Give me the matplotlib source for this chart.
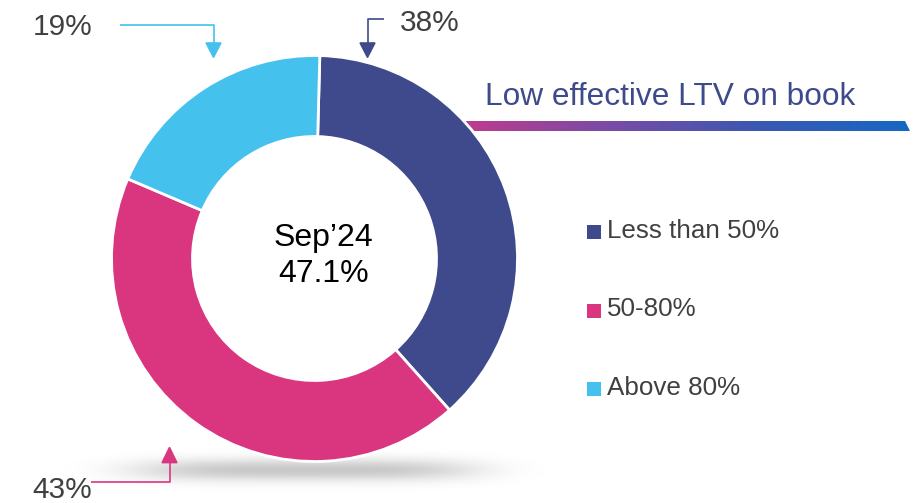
import numpy as np
import matplotlib
matplotlib.use("Agg")
import matplotlib.pyplot as plt
from matplotlib.patches import Polygon, Rectangle
from matplotlib.colors import LinearSegmentedColormap

# ---- data ----
categories = ["Less than 50%", "50-80%", "Above 80%"]
shares = [38, 43, 19]
pct_labels = ["38%", "43%", "19%"]
colors = ["#3E4A8B", "#D9367F", "#45C1EE"]
title = "Low effective LTV on book"
center_text = "Sep\u201924\n47.1%"

W, H = 917, 503
plt.rcParams['font.family'] = ['Liberation Sans', 'DejaVu Sans']
fig = plt.figure(figsize=(W / 100, H / 100), dpi=100)
ax = fig.add_axes([0, 0, 1, 1])

def Y(y):  # image row -> data y
    return H - y

cx, cy, R = 314.5, Y(258.5), 203
# ---- shadow under donut ----
xs = np.linspace(0, W, 600)
ys = np.linspace(0, 80, 120)
XX, YY = np.meshgrid(xs, ys)
alpha = np.exp(-(np.abs(XX - 305) / 170) ** 4) * np.exp(-((YY - Y(470)) / 11) ** 2) * 0.22
img = np.zeros((len(ys), len(xs), 4))
img[..., 3] = alpha
ax.imshow(img, extent=[0, W, 0, 80], origin='lower', zorder=0, interpolation='bilinear')

# ---- gradient bar ----
grad = np.linspace(0, 1, 400).reshape(1, -1)
cmap = LinearSegmentedColormap.from_list("g", ["#C23A8C", "#7A4BA6", "#3B58B2", "#1668C4"])
bx0, bx1, by0, by1 = 455, 910, Y(131), Y(121)
im = ax.imshow(grad, extent=[bx0, bx1, by0, by1], cmap=cmap, aspect='auto', zorder=1)
clip = Polygon([[bx0, by0], [bx1, by0], [bx1 - 5, by1], [bx0, by1]], closed=True,
               transform=ax.transData, facecolor='none', edgecolor='none')
ax.add_patch(clip)
im.set_clip_path(clip)
ax.text(485, Y(97), title, fontsize=22.8, color="#3E4A8B", ha='left', va='center', zorder=3)

# ---- donut ----
wedges, _ = ax.pie(shares, colors=colors, startangle=88.5, counterclock=False,
                   center=(cx, cy), radius=R, frame=True,
                   wedgeprops=dict(width=R - 122, edgecolor='white', linewidth=2))
for w in wedges:
    w.set_zorder(2)
ax.set_xlim(0, W)
ax.set_ylim(0, H)
ax.set_aspect('equal')
ax.axis('off')
ax.text(323.5, Y(256), center_text, fontsize=23, color='black', ha='center', va='center',
        linespacing=1.25, zorder=3)

# ---- callouts ----
def arrow(points, tip, up, color):
    xs_, ys_ = zip(*points)
    ax.plot(xs_, [Y(v) for v in ys_], color=color, lw=1.2, zorder=3, solid_capstyle='butt')
    tx, ty = tip
    d = 14.6 if not up else -15.4
    head = Polygon([[tx, Y(ty)], [tx - 7.5, Y(ty - d)], [tx + 7.5, Y(ty - d)]],
                   closed=True, color=color, zorder=3)
    ax.add_patch(head)

arrow([(120, 25.3), (213.5, 25.3), (213.5, 44)], (213.5, 57.5), False, colors[2])
arrow([(384, 19.3), (367.5, 19.3), (367.5, 44)], (367.5, 57.5), False, colors[0])
arrow([(90.7, 481.7), (169.5, 481.7), (169.5, 461)], (169.5, 447.3), True, colors[1])

lab_color = "#404040"
ax.text(62.5, Y(27), pct_labels[2], fontsize=21.5, color=lab_color, ha='center', va='center')
ax.text(430, Y(23), pct_labels[0], fontsize=21.5, color=lab_color, ha='center', va='center')
ax.text(62.5, Y(490), pct_labels[1], fontsize=21.5, color=lab_color, ha='center', va='center')

# ---- legend ----
leg_y = [232, 310.5, 389]
for name, c, yy in zip(categories, colors, leg_y):
    ax.add_patch(Rectangle((587, Y(yy) - 7), 14, 14, facecolor=c, edgecolor='none', zorder=3))
    ax.text(607, Y(yy) + 1, name, fontsize=18.7, color=lab_color, ha='left', va='center')

fig.savefig("out.png", dpi=100)
